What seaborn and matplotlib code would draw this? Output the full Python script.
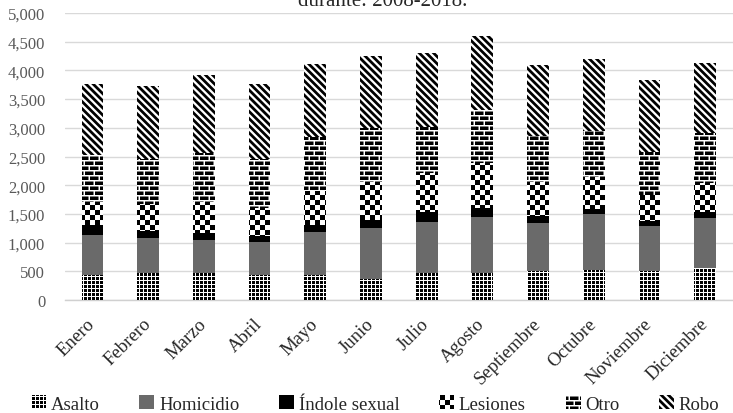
import numpy as np
import pandas as pd
import matplotlib
matplotlib.use("Agg")
import matplotlib.pyplot as plt
import matplotlib.hatch as mhatch
from matplotlib.path import Path
from matplotlib.patches import Patch
from matplotlib.ticker import FuncFormatter, MultipleLocator
import seaborn as sns

# ---- data: monthly counts by type of crime ----
meses = ["Enero", "Febrero", "Marzo", "Abril", "Mayo", "Junio", "Julio",
         "Agosto", "Septiembre", "Octubre", "Noviembre", "Diciembre"]
asalto = [440, 470, 465, 440, 440, 370, 470, 470, 500, 520, 500, 550]
homicidio = [700, 610, 585, 565, 740, 880, 890, 970, 835, 980, 785, 870]
indole_sexual = [170, 130, 115, 115, 120, 150, 170, 170, 135, 80, 100, 105]
lesiones = [390, 470, 535, 480, 600, 650, 690, 780, 580, 570, 445, 520]
otro = [830, 770, 860, 850, 940, 950, 790, 920, 800, 800, 745, 860]
robo = [1230, 1280, 1360, 1310, 1280, 1250, 1290, 1290, 1250, 1250, 1260, 1230]
series = ["Asalto", "Homicidio", "Índole sexual", "Lesiones", "Otro", "Robo"]
titulo = "durante: 2008-2018."


# ---- filled hatch tiles (unit square = one hatch cell) ----
class _FilledTiles(mhatch.HatchPatternBase):
    filled = True
    key = None

    def __init__(self, hatch, density):
        self.polys = self.build() if (hatch and self.key in hatch) else []
        self.num_vertices = 5 * len(self.polys)

    def build(self):
        return []

    def set_vertices_and_codes(self, vertices, codes):
        for i, poly in enumerate(self.polys):
            vertices[5 * i:5 * i + 4] = poly
            vertices[5 * i + 4] = poly[0]
            codes[5 * i] = Path.MOVETO
            codes[5 * i + 1:5 * i + 4] = Path.LINETO
            codes[5 * i + 4] = Path.CLOSEPOLY


def _rect(x, y, w, h):
    return [(x, y), (x + w, y), (x + w, y + h), (x, y + h)]


class GridTiles(_FilledTiles):
    key = "+"

    def build(self):
        p, s = 1 / 25, 0.03
        return [_rect(i * p, j * p, s, s) for i in range(25) for j in range(25)]


class CheckerTiles(_FilledTiles):
    key = "x"

    def build(self):
        p, s = 0.1, 0.05
        out = []
        for i in range(10):
            for j in range(10):
                out.append(_rect(i * p, j * p, s, s))
                out.append(_rect(i * p + s, j * p + s, s, s))
        return out


class BrickTiles(_FilledTiles):
    key = "-"

    def build(self):
        rp, rh = 0.05, 0.035
        bp, bl = 0.1, 0.085
        out = []
        for j in range(20):
            off = 0.05 if j % 2 else 0.0
            for i in range(-1, 11):
                out.append(_rect(i * bp + off, j * rp, bl, rh))
        return out


class StripeTiles(_FilledTiles):
    key = "\\"

    def build(self):
        p = 1 / 14
        w = 0.55 * p
        out = []
        for k in range(-1, 30):
            c = k * p
            out.append([(-1, c + 1), (2, c - 2), (2, c + w - 2), (-1, c + w + 1)])
        return out


mhatch._hatch_types = [GridTiles, CheckerTiles, BrickTiles, StripeTiles]

# ---- style ----
sns.set_style("white")
plt.rcParams["font.family"] = ["Liberation Serif", "DejaVu Serif"]
plt.rcParams["hatch.linewidth"] = 0.0

estilos = {
    "Asalto": ("white", "+"),
    "Homicidio": ("#6a6a6a", None),
    "Índole sexual": ("black", None),
    "Lesiones": ("white", "x"),
    "Otro": ("white", "-"),
    "Robo": ("white", "\\"),
}

df = pd.DataFrame({
    "Mes": meses,
    "Asalto": asalto,
    "Homicidio": homicidio,
    "Índole sexual": indole_sexual,
    "Lesiones": lesiones,
    "Otro": otro,
    "Robo": robo,
})

fig = plt.figure(figsize=(7.33, 4.14), dpi=100)
ax = fig.add_axes([64.6 / 733, 113 / 414, (733 - 64.6) / 733, 287 / 414])

base = np.zeros(len(meses))
for nombre in series:
    cara, trama = estilos[nombre]
    sns.barplot(data=df, x="Mes", y=nombre, order=meses, color=cara,
                saturation=1, width=0.39, bottom=base, errorbar=None,
                edgecolor="black", linewidth=0, ax=ax, zorder=3)
    for barra in ax.containers[-1]:
        barra.set_edgecolor("black")
        barra.set_linewidth(0)
        barra.set_hatch(trama)
    base = base + df[nombre].to_numpy()

ax.set_xlim(-0.5, 11.5)
ax.set_ylim(0, 5000)
ax.yaxis.set_major_locator(MultipleLocator(500))
ax.yaxis.set_major_formatter(FuncFormatter(lambda v, _: f"{v:,.0f}"))
ax.grid(axis="y", color="#d9d9d9", linewidth=1, zorder=0)
ax.set_axisbelow(True)
for lado in ["top", "right", "left"]:
    ax.spines[lado].set_visible(False)
ax.spines["bottom"].set_color("#d0d0d0")
ax.spines["bottom"].set_linewidth(1)
ax.set_xlabel("")
ax.set_ylabel("")
ax.tick_params(axis="y", length=0, pad=14, labelsize=12, labelcolor="#595959")
ax.tick_params(axis="x", length=0, pad=15, labelcolor="#262626")
ax.set_xticks(range(len(meses)))
ax.set_xticklabels(meses, rotation=45, ha="right", va="center",
                   rotation_mode="anchor", fontsize=13.5)

fig.text(383 / 733, 1 - 6 / 414, titulo, ha="center", va="baseline",
         fontsize=15, color="#262626")

manejadores = [Patch(facecolor=estilos[n][0], edgecolor="black", linewidth=0,
                     hatch=estilos[n][1], label=n) for n in series]
fig.legend(handles=manejadores, loc="center left",
           bbox_to_anchor=(31 / 733, 1 - 405 / 414),
           ncol=6, frameon=False, fontsize=13.5, handlelength=0.8,
           handleheight=0.75, handletextpad=0.25, columnspacing=2.12,
           labelcolor="#262626", borderaxespad=0, borderpad=0)

fig.savefig("out.png", dpi=100)
